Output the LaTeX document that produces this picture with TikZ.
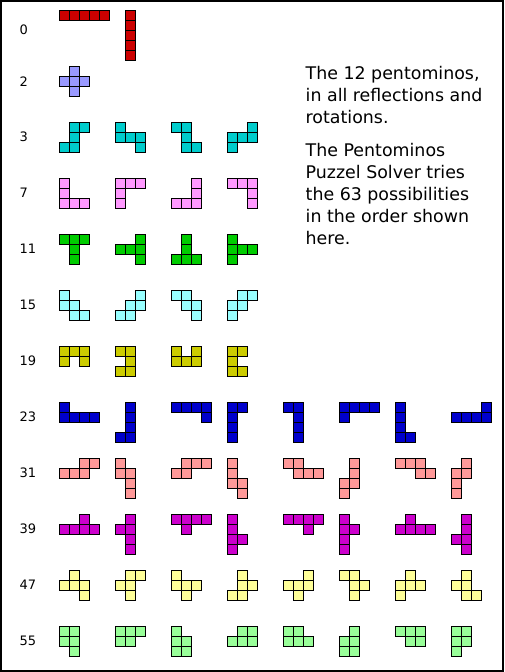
\documentclass[tikz,border=0pt]{standalone}
\usepackage{fontspec}
\setmainfont{DejaVu Sans}
\definecolor{cRed}{RGB}{204,0,0}
\definecolor{cLav}{RGB}{153,153,255}
\definecolor{cCyan}{RGB}{0,204,204}
\definecolor{cPink}{RGB}{255,153,255}
\definecolor{cGreen}{RGB}{0,204,0}
\definecolor{cLCyan}{RGB}{153,255,255}
\definecolor{cOlive}{RGB}{204,204,0}
\definecolor{cBlue}{RGB}{0,0,204}
\definecolor{cSalmon}{RGB}{255,153,153}
\definecolor{cMag}{RGB}{204,0,204}
\definecolor{cLYel}{RGB}{255,255,153}
\definecolor{cLGreen}{RGB}{153,255,153}
% piece at absolute position
\newcommand\pcxy[4]{%
  \begin{scope}[shift={(#1,#2)}]
    \foreach \i/\j in {#4} {\filldraw[cellbox, fill=#3] (10*\i,10*\j) rectangle ++(10,10);}
  \end{scope}}
% piece at grid slot (column, row)
\newcommand\pc[4]{\pcxy{59.5+56*#1}{10.5+56*#2}{#3}{#4}}
\tikzset{
  cellbox/.style={draw=black, line width=1pt},
  rowlabel/.style={anchor=west, inner sep=0pt, font=\fontsize{13}{13}\selectfont},
  infotext/.style={anchor=base west, inner sep=0pt, font=\fontsize{17.4}{22}\selectfont}
}
\begin{document}
\begin{tikzpicture}[x=1pt,y=-1pt]
\useasboundingbox (0,0) rectangle (504,672);
\fill[white] (0,0) rectangle (504,672);
\draw[line width=2pt] (1,1) rectangle (503,671);

% labels
\node[rowlabel] (l0)  at (19.5,30)  {0};
\node[rowlabel] (l2)  at (19.5,81.5){2};
\node[rowlabel] (l3)  at (19.5,137) {3};
\node[rowlabel] (l7)  at (19.5,193) {7};
\node[rowlabel] (l11) at (19.5,249) {11};
\node[rowlabel] (l15) at (19.5,305) {15};
\node[rowlabel] (l19) at (19.5,361) {19};
\node[rowlabel] (l23) at (19.5,417) {23};
\node[rowlabel] (l31) at (19.5,473) {31};
\node[rowlabel] (l39) at (19.5,529) {39};
\node[rowlabel] (l47) at (19.5,585) {47};
\node[rowlabel] (l55) at (19.5,641) {55};

% text
\node[infotext] (t1) at (305.5,79) {\parbox[t]{195pt}{\raggedright\baselineskip=22pt
The 12 pentominos,\\ in all reflections and\\ rotations.}};
\node[infotext] (t2) at (305.5,156) {\parbox[t]{195pt}{\raggedright\baselineskip=22pt
The Pentominos\\ Puzzel Solver tries\\ the 63 possibilities\\ in the order shown\\ here.}};

% row 0
\pc{0}{0}{cRed}{0/0,1/0,2/0,3/0,4/0}
\pcxy{125.5}{10.5}{cRed}{0/0,0/1,0/2,0/3,0/4}
% row 2
\pc{0}{1}{cLav}{1/0,0/1,1/1,2/1,1/2}
% row 3
\pc{0}{2}{cCyan}{1/0,2/0,1/1,0/2,1/2}
\pc{1}{2}{cCyan}{0/0,0/1,1/1,2/1,2/2}
\pc{2}{2}{cCyan}{0/0,1/0,1/1,1/2,2/2}
\pc{3}{2}{cCyan}{2/0,0/1,1/1,2/1,0/2}
% row 7
\pc{0}{3}{cPink}{0/0,0/1,0/2,1/2,2/2}
\pc{1}{3}{cPink}{0/0,1/0,2/0,0/1,0/2}
\pc{2}{3}{cPink}{2/0,2/1,0/2,1/2,2/2}
\pc{3}{3}{cPink}{0/0,1/0,2/0,2/1,2/2}
% row 11
\pc{0}{4}{cGreen}{0/0,1/0,2/0,1/1,1/2}
\pc{1}{4}{cGreen}{2/0,0/1,1/1,2/1,2/2}
\pc{2}{4}{cGreen}{1/0,1/1,0/2,1/2,2/2}
\pc{3}{4}{cGreen}{0/0,0/1,1/1,2/1,0/2}
% row 15
\pc{0}{5}{cLCyan}{0/0,0/1,1/1,1/2,2/2}
\pc{1}{5}{cLCyan}{2/0,1/1,2/1,0/2,1/2}
\pc{2}{5}{cLCyan}{0/0,1/0,1/1,2/1,2/2}
\pc{3}{5}{cLCyan}{1/0,2/0,0/1,1/1,0/2}
% row 19
\pc{0}{6}{cOlive}{0/0,1/0,2/0,0/1,2/1}
\pc{1}{6}{cOlive}{0/0,1/0,1/1,0/2,1/2}
\pc{2}{6}{cOlive}{0/0,2/0,0/1,1/1,2/1}
\pc{3}{6}{cOlive}{0/0,1/0,0/1,0/2,1/2}
% row 23
\pc{0}{7}{cBlue}{0/0,0/1,1/1,2/1,3/1}
\pc{1}{7}{cBlue}{1/0,1/1,1/2,0/3,1/3}
\pc{2}{7}{cBlue}{0/0,1/0,2/0,3/0,3/1}
\pc{3}{7}{cBlue}{0/0,1/0,0/1,0/2,0/3}
\pc{4}{7}{cBlue}{0/0,1/0,1/1,1/2,1/3}
\pc{5}{7}{cBlue}{0/0,1/0,2/0,3/0,0/1}
\pc{6}{7}{cBlue}{0/0,0/1,0/2,0/3,1/3}
\pc{7}{7}{cBlue}{3/0,0/1,1/1,2/1,3/1}
% row 31
\pc{0}{8}{cSalmon}{2/0,3/0,0/1,1/1,2/1}
\pc{1}{8}{cSalmon}{0/0,0/1,1/1,1/2,1/3}
\pc{2}{8}{cSalmon}{1/0,2/0,3/0,0/1,1/1}
\pc{3}{8}{cSalmon}{0/0,0/1,0/2,1/2,1/3}
\pc{4}{8}{cSalmon}{0/0,1/0,1/1,2/1,3/1}
\pc{5}{8}{cSalmon}{1/0,1/1,0/2,1/2,0/3}
\pc{6}{8}{cSalmon}{0/0,1/0,2/0,2/1,3/1}
\pc{7}{8}{cSalmon}{1/0,0/1,1/1,0/2,0/3}
% row 39
\pc{0}{9}{cMag}{2/0,0/1,1/1,2/1,3/1}
\pc{1}{9}{cMag}{1/0,0/1,1/1,1/2,1/3}
\pc{2}{9}{cMag}{0/0,1/0,2/0,3/0,1/1}
\pc{3}{9}{cMag}{0/0,0/1,0/2,1/2,0/3}
\pc{4}{9}{cMag}{0/0,1/0,2/0,3/0,2/1}
\pc{5}{9}{cMag}{0/0,0/1,1/1,0/2,0/3}
\pc{6}{9}{cMag}{1/0,0/1,1/1,2/1,3/1}
\pc{7}{9}{cMag}{1/0,1/1,0/2,1/2,1/3}
% row 47
\pc{0}{10}{cLYel}{1/0,0/1,1/1,2/1,2/2}
\pc{1}{10}{cLYel}{1/0,2/0,0/1,1/1,1/2}
\pc{2}{10}{cLYel}{0/0,0/1,1/1,2/1,1/2}
\pc{3}{10}{cLYel}{1/0,1/1,2/1,0/2,1/2}
\pc{4}{10}{cLYel}{2/0,0/1,1/1,2/1,1/2}
\pc{5}{10}{cLYel}{0/0,1/0,1/1,2/1,1/2}
\pc{6}{10}{cLYel}{1/0,0/1,1/1,2/1,0/2}
\pc{7}{10}{cLYel}{1/0,0/1,1/1,1/2,2/2}
% row 55
\pc{0}{11}{cLGreen}{0/0,1/0,0/1,1/1,1/2}
\pc{1}{11}{cLGreen}{0/0,1/0,2/0,0/1,1/1}
\pc{2}{11}{cLGreen}{0/0,0/1,1/1,0/2,1/2}
\pc{3}{11}{cLGreen}{1/0,2/0,0/1,1/1,2/1}
\pc{4}{11}{cLGreen}{0/0,1/0,0/1,1/1,2/1}
\pc{5}{11}{cLGreen}{1/0,0/1,1/1,0/2,1/2}
\pc{6}{11}{cLGreen}{0/0,1/0,2/0,1/1,2/1}
\pc{7}{11}{cLGreen}{0/0,1/0,0/1,1/1,0/2}
\end{tikzpicture}
\end{document}
